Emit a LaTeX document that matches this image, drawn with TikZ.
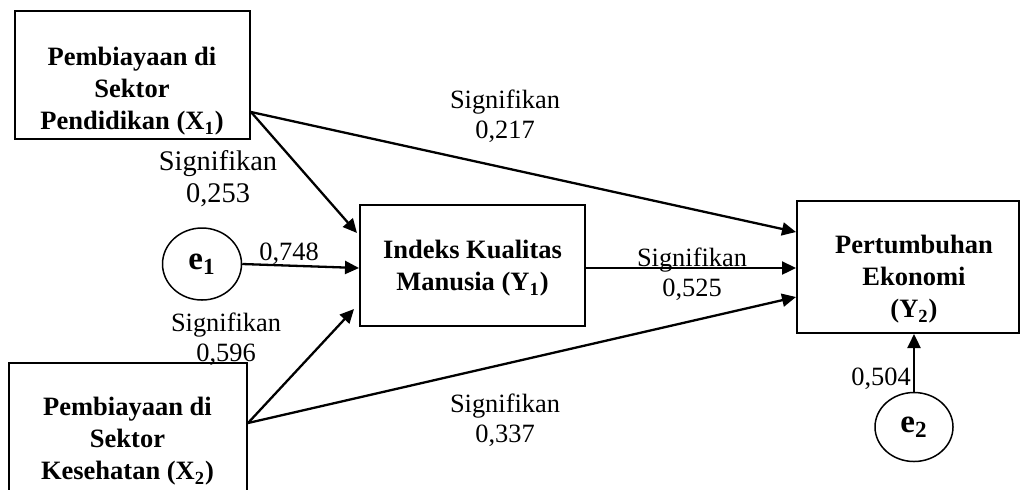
\documentclass[tikz,border=0pt]{standalone}
\usepackage{fontspec}
\setmainfont{Liberation Serif}
\usetikzlibrary{arrows.meta,shapes.geometric}
\tikzset{
  box/.style={draw,line width=1pt,rectangle,inner sep=0pt},
  boxtext/.style={font=\bfseries\fontsize{13.25}{16}\selectfont,align=center,inner sep=0pt,anchor=north},
  err/.style={draw,line width=0.75pt,ellipse,inner sep=0pt,font=\bfseries\fontsize{16.5}{18}\selectfont},
  lbl/.style={font=\fontsize{13.2}{15}\selectfont,align=center,inner sep=0pt,anchor=north},
  arr/.style={line width=1.15pt,-{Triangle[length=7pt,width=6.5pt]}}
}
\begin{document}
\begin{tikzpicture}[x=0.5pt,y=-0.5pt]
\useasboundingbox (0,0) rectangle (1021,489);
\clip (0,0) rectangle (1021,489);
% boxes
\node[box,minimum width=117.5pt,minimum height=64pt] (X1) at (132.5,75) {};
\node[box,minimum width=119pt,minimum height=78.5pt] (X2) at (128,441.5) {};
\node[box,minimum width=112.5pt,minimum height=60.5pt] (Y1) at (472.5,265.5) {};
\node[box,minimum width=111pt,minimum height=66pt] (Y2) at (908,267) {};
% box texts
\node[boxtext] (X1t) at (132,47) {Pembiayaan di\\Sektor\\Pendidikan (X\textsubscript{1})};
\node[boxtext] (X2t) at (127.5,397) {Pembiayaan di\\Sektor\\Kesehatan (X\textsubscript{2})};
\node[boxtext] (Y1t) at (472.5,240) {Indeks Kualitas\\Manusia (Y\textsubscript{1})};
\node[boxtext] (Y2t) at (914,235) {Pertumbuhan\\Ekonomi\\(Y\textsubscript{2})};
% error terms
\node[err,minimum width=39.5pt,minimum height=36pt] (e1) at (202,264) {e\textsubscript{1}};
\node[err,minimum width=39pt,minimum height=34.5pt] (e2) at (914,427) {e\textsubscript{2}};
% connectors
\draw[arr] ([yshift=-18.5pt]X1.east) -- ([yshift=17.5pt]Y2.west);
\draw[arr] ([yshift=-18.5pt]X1.east) -- ([xshift=-1pt,yshift=16.25pt]Y1.west);
\draw[arr] (e1.east) -- ([yshift=-1.25pt]Y1.west);
\draw[arr] ([yshift=9.25pt]X2.east) -- ([xshift=-2.5pt,yshift=-21.75pt]Y1.west);
\draw[arr] ([yshift=9.25pt]X2.east) -- ([yshift=-15pt]Y2.west);
\draw[arr] ([yshift=-1.25pt]Y1.east) -- ([yshift=-0.5pt]Y2.west);
\draw[arr] (e2.north) -- (e2.north |- Y2.south);
% labels
\node[lbl] (l1) at (505,90) {Signifikan\\0,217};
\node[lbl,font=\fontsize{14.2}{16}\selectfont] (l2) at (218,150) {Signifikan\\0,253};
\node[lbl] (l3) at (289,243) {0,748};
\node[lbl] (l4) at (226,312) {Signifikan\\0,596};
\node[lbl] (l5) at (692,248) {Signifikan\\0,525};
\node[lbl] (l6) at (505,393) {Signifikan\\0,337};
\node[lbl] (l7) at (881,368) {0,504};
\end{tikzpicture}
\end{document}
